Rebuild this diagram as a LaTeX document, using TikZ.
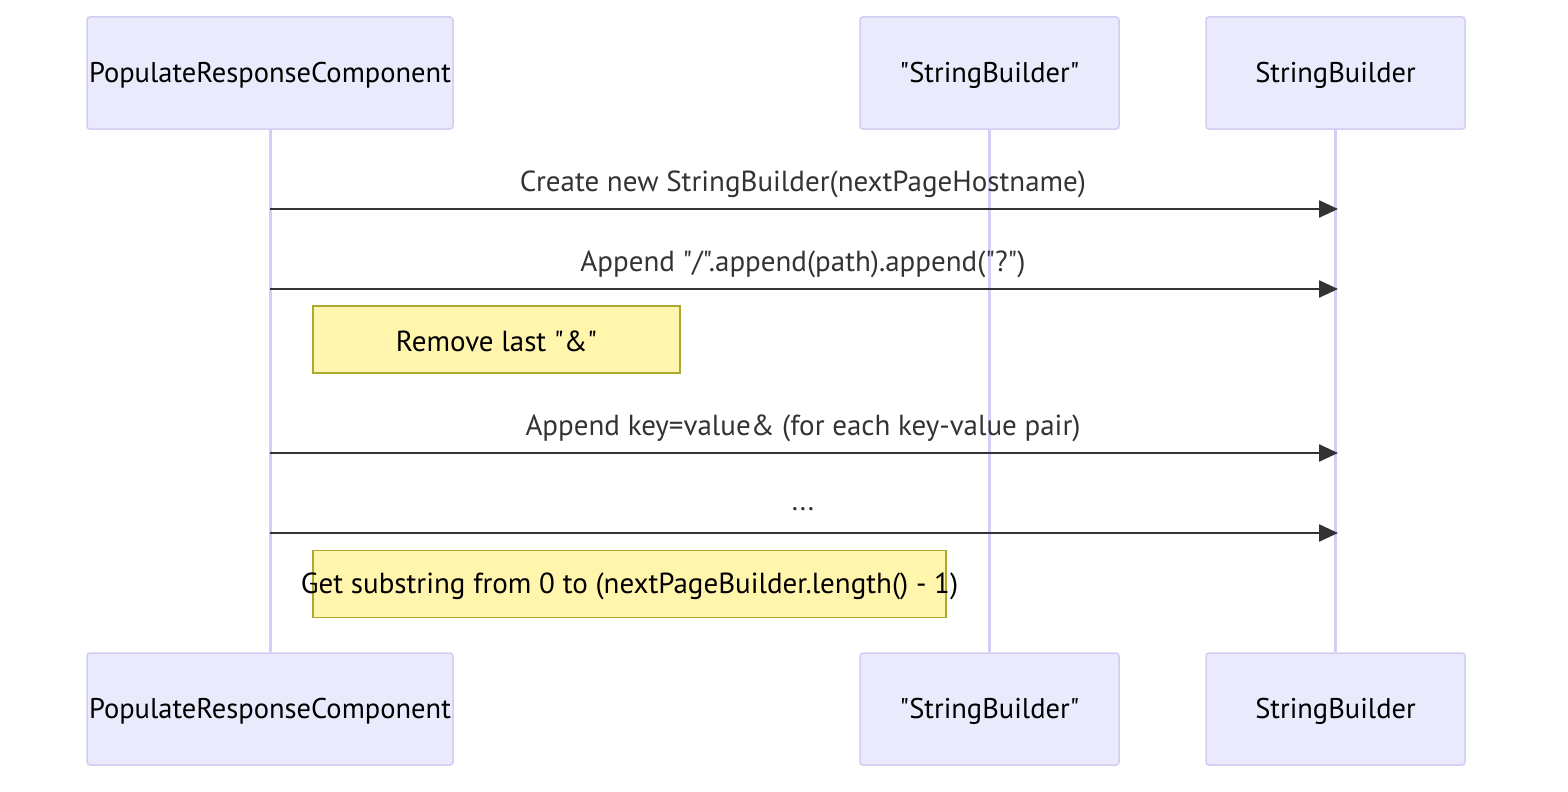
\documentclass[tikz,border=0pt]{standalone}
\usepackage{fontspec}
\setmainfont{PT Sans}[Ligatures=TeXOff]
\usetikzlibrary{arrows.meta}
\definecolor{actfill}{HTML}{EAEAFD}
\definecolor{actdraw}{HTML}{D4CCF2}
\definecolor{lifeln}{HTML}{D8CCF6}
\definecolor{notefill}{HTML}{FFF5AD}
\definecolor{notedraw}{HTML}{AAAA33}
\definecolor{msgcol}{HTML}{333333}
\tikzset{
  actor/.style={draw=actdraw, fill=actfill, line width=1.5pt, rounded corners=3pt, minimum width=#1, minimum height=112pt, inner sep=0pt, font=\fontsize{28.5}{32}\selectfont, text=black},
  actortext/.style={font=\fontsize{28.5}{32}\selectfont, text=black, inner sep=0pt, yshift=-2pt},
  lifeline/.style={draw=lifeln, line width=3pt},
  msg/.style={draw=msgcol, line width=2.4pt, -{Triangle[length=19pt,width=17pt]}},
  msglabel/.style={font=\fontsize{29}{32}\selectfont, text=msgcol, inner sep=0pt},
  note/.style={draw=notedraw, fill=notefill, line width=1.2pt, minimum height=67pt, inner sep=0pt},
  notetext/.style={font=\fontsize{29}{32}\selectfont, text=black, inner sep=0pt}
}
\begin{document}
\begin{tikzpicture}[x=1pt,y=-1pt]
\useasboundingbox (0,0) rectangle (1568,792);
% actors
\node[actor=366pt] (a1) at (270,73) {};
\node[actor=259pt] (a2) at (989.5,73) {};
\node[actor=259pt] (a3) at (1335.5,73) {};
\node[actor=366pt] (b1) at (270,709) {};
\node[actor=259pt] (b2) at (989.5,709) {};
\node[actor=259pt] (b3) at (1335.5,709) {};
\node[actortext] (a1t) at (a1.center) {PopulateResponseComponent};
\node[actortext] (a2t) at (a2.center) {"StringBuilder"};
\node[actortext] (a3t) at (a3.center) {StringBuilder};
\node[actortext] (b1t) at (b1.center) {PopulateResponseComponent};
\node[actortext] (b2t) at (b2.center) {"StringBuilder"};
\node[actortext] (b3t) at (b3.center) {StringBuilder};
% lifelines
\draw[lifeline] (a1.south) -- (b1.north);
\draw[lifeline] (a2.south) -- (b2.north);
\draw[lifeline] (a3.south) -- (b3.north);
% message anchor coordinates
\coordinate (s1) at (270,209); \coordinate (t1) at (1338,209);
\coordinate (s2) at (270,289); \coordinate (t2) at (1338,289);
\coordinate (s3) at (270,453); \coordinate (t3) at (1338,453);
\coordinate (s4) at (270,533); \coordinate (t4) at (1338,533);
\draw[msg] (s1) -- (t1);
\draw[msg] (s2) -- (t2);
\draw[msg] (s3) -- (t3);
\draw[msg] (s4) -- (t4);
\node[msglabel] (l1) at (803,184) {Create new StringBuilder(nextPageHostname)};
\node[msglabel] (l2) at (803,264) {Append "/".append(path).append("?")};
\node[msglabel] (l3) at (803,428) {Append key=value\& (for each key-value pair)};
\node[msglabel] (l4) at (803,509) {...};
% notes
\node[note, minimum width=367pt] (n1) at (496.5,339.5) {};
\node[notetext] (n1t) at (496.5,341.5) {Remove last "\&"};
\node[note, minimum width=633pt] (n2) at (629.5,584) {};
\node[notetext] (n2t) at (629.5,586) {Get substring from 0 to (nextPageBuilder.length() - 1)};
\end{tikzpicture}
\end{document}
